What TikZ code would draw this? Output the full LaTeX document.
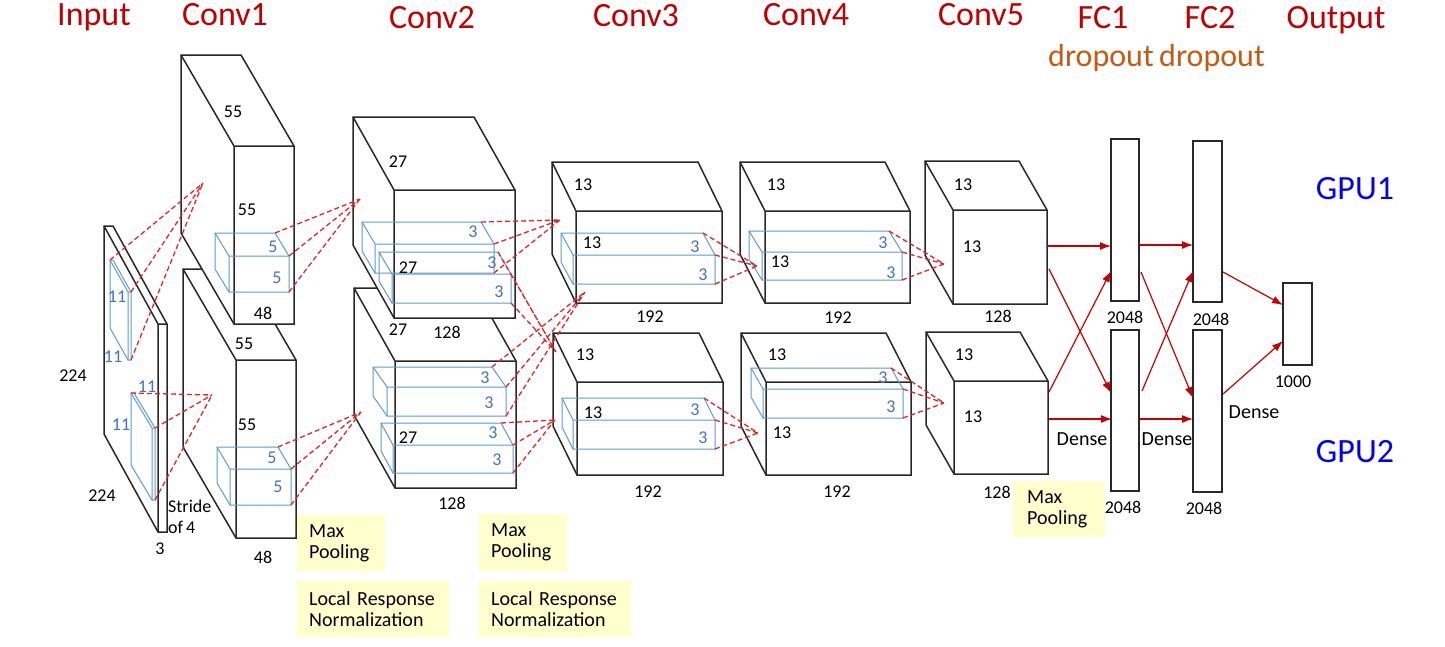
\documentclass[tikz,border=0pt]{standalone}
\usepackage{fontspec}
\setmainfont{Carlito}
\usetikzlibrary{arrows.meta,calc}
\definecolor{ttl}{RGB}{192,0,0}
\definecolor{drp}{RGB}{197,90,17}
\definecolor{gpu}{RGB}{0,0,255}
\definecolor{kblue}{RGB}{91,155,213}
\definecolor{klab}{RGB}{68,114,196}
\definecolor{rdash}{RGB}{220,40,40}
\definecolor{rarr}{RGB}{200,0,0}
\definecolor{yel}{RGB}{255,255,204}
\definecolor{blk}{RGB}{40,40,40}
\tikzset{
  blockline/.style={draw=blk, line width=1.5pt, fill=white, line join=miter},
  kernline/.style={draw=kblue, line width=1pt},
  conn/.style={draw=rdash, line width=1.3pt, dash pattern=on 5pt off 3pt},
  arr/.style={draw=rarr, line width=1.2pt, -{Latex[length=11pt,width=8pt]}},
  num/.style={font=\fontsize{18}{20}\selectfont, text=black, inner sep=0pt},
  knum/.style={font=\fontsize{18}{20}\selectfont, text=klab, inner sep=0pt},
  ttlt/.style={font=\fontsize{34}{36}\selectfont, text=ttl, anchor=base, inner sep=0pt},
  drpt/.style={font=\fontsize{32}{34}\selectfont, text=drp, anchor=base, inner sep=0pt},
  gput/.style={font=\fontsize{34}{36}\selectfont, text=gpu, anchor=base, inner sep=0pt},
  fcbox/.style={draw=blk, line width=1.5pt, fill=white, inner sep=0pt},
  ybox/.style={fill=yel, inner xsep=12pt, inner ysep=0pt, align=left,
    font=\fontsize{20}{21}\selectfont},
}
\newcommand{\mkbox}[8]{%
  \coordinate (#1-ftl) at (#3,#4);
  \coordinate (#1-ftr) at (#5,#4);
  \coordinate (#1-fbl) at (#3,#6);
  \coordinate (#1-fbr) at (#5,#6);
  \coordinate (#1-btl) at ({#3-#7},{#4-#8});
  \coordinate (#1-btr) at ({#5-#7},{#4-#8});
  \coordinate (#1-bbl) at ({#3-#7},{#6-#8});
  \path[#2] (#1-btl) -- (#1-btr) -- (#1-ftr) -- (#1-fbr) -- (#1-fbl) -- (#1-bbl) -- cycle;
  \path[#2, fill=none] (#1-btl) -- (#1-ftl) -- (#1-ftr) (#1-ftl) -- (#1-fbl);
}
\begin{document}
\begin{tikzpicture}[x=1pt,y=-1pt]
\useasboundingbox (0,0) rectangle (1445,646);
\fill[white] (0,0) rectangle (1445,646);

% ---------- titles ----------
\node[ttlt] (tin) at (94,25) {Input};
\node[ttlt] (tc1) at (225,25) {Conv1};
\node[ttlt] (tc2) at (432,28) {Conv2};
\node[ttlt] (tc3) at (636,26) {Conv3};
\node[ttlt] (tc4) at (806,25) {Conv4};
\node[ttlt] (tc5) at (981,25) {Conv5};
\node[ttlt] (tf1) at (1103,28) {FC1};
\node[ttlt] (tf2) at (1210,28) {FC2};
\node[ttlt] (tout) at (1336,28) {Output};
\node[drpt] (td1) at (1101,66) {dropout};
\node[drpt] (td2) at (1212,66) {dropout};
\node[gput] (g1) at (1355,199) {GPU1};
\node[gput] (g2) at (1355,462) {GPU2};

% ---------- input ----------
\mkbox{inp}{blockline}{158}{324}{167}{532}{54}{98}
\mkbox{ik1}{kernline}{128}{292}{131}{360}{18}{32}
\mkbox{ik2}{kernline}{152}{428}{155}{500}{21}{35}

% ---------- conv1 ----------
\mkbox{c1l}{blockline}{236}{360}{296}{538}{53}{91}
\mkbox{c1u}{blockline}{234}{146}{294}{324}{53}{91}
\mkbox{k1u}{kernline}{229}{256}{289}{292}{14}{23}
\mkbox{k1l}{kernline}{230}{469}{291}{505}{13}{22}

% ---------- conv2 ----------
\mkbox{c2l}{blockline}{395}{361}{516}{488}{41}{73}
\mkbox{c2u}{blockline}{394}{190}{515}{318}{41}{73}
\mkbox{k2a}{kernline}{375}{244}{494}{273}{13}{22}
\mkbox{k2b}{kernline}{392}{274}{511}{303}{13}{22}
\mkbox{k2c}{kernline}{387}{387}{506}{416}{14}{20}
\mkbox{k2d}{kernline}{393}{445}{513}{473}{12}{22}

% ---------- conv3 ----------
\mkbox{c3u}{blockline}{576}{211}{722}{303}{24}{49}
\mkbox{c3l}{blockline}{577}{382}{723}{475}{24}{49}
\mkbox{k3u}{kernline}{573}{255}{715}{284}{12}{22}
\mkbox{k3l}{kernline}{573}{420}{715}{449}{11}{22}

% ---------- conv4 ----------
\mkbox{c4u}{blockline}{765}{211}{910}{303}{25}{49}
\mkbox{c4l}{blockline}{766}{382}{911}{475}{25}{49}
\mkbox{k4u}{kernline}{762}{252}{902}{280}{13}{21}
\mkbox{k4l}{kernline}{763}{389}{903}{418}{12}{21}

% ---------- conv5 ----------
\mkbox{c5u}{blockline}{953}{210}{1047}{304}{28}{49}
\mkbox{c5l}{blockline}{954}{381}{1048}{474}{28}{49}

% ---------- fully connected ----------
\node[fcbox, minimum width=28pt, minimum height=162pt] (fc1u) at (1125,220) {};
\node[fcbox, minimum width=28pt, minimum height=161pt] (fc1l) at (1125,410.5) {};
\node[fcbox, minimum width=29pt, minimum height=161pt] (fc2u) at (1207.5,221.5) {};
\node[fcbox, minimum width=29pt, minimum height=162pt] (fc2l) at (1207.5,411) {};
\node[fcbox, minimum width=29pt, minimum height=82pt] (outb) at (1297.5,324) {};

% ---------- dashed connections ----------
\coordinate (pin1) at (203,183);
\coordinate (pin2) at (212,395);
\coordinate (p1u) at (360,199);
\coordinate (p1l) at (361,412);
\coordinate (p2a) at (560,220);
\coordinate (p2b) at (556,352);
\coordinate (p2c) at (585,292);
\coordinate (p2d) at (555,420);
\coordinate (p3u) at (757,266);
\coordinate (p3l) at (758,433);
\coordinate (p4u) at (944,264);
\coordinate (p4l) at (944,403);
\draw[conn] (ik1-btl) -- (pin1) (ik1-ftr) -- (pin1) (ik1-fbr) -- (pin1);
\draw[conn] (ik2-btl) -- (pin2) (ik2-ftr) -- (pin2) (ik2-fbr) -- (pin2);
\foreach \k/\p in {k1u/p1u,k1l/p1l,k2a/p2a,k2b/p2b,k2c/p2c,k2d/p2d,k3u/p3u,k3l/p3l,k4u/p4u,k4l/p4l}{
  \draw[conn] (\k-btr) -- (\p) (\k-ftr) -- (\p) (\k-fbr) -- (\p);
}

% ---------- solid arrows ----------
\coordinate (a1s) at (1047,246); \coordinate (a1e) at (1111,246);
\coordinate (a2s) at (1049,269); \coordinate (a2e) at (1111,393);
\coordinate (a3s) at (1049,392); \coordinate (a3e) at (1111,271);
\coordinate (a4s) at (1049,419); \coordinate (a4e) at (1112,419);
\coordinate (a5s) at (1140,245); \coordinate (a5e) at (1193,245);
\coordinate (a6s) at (1141,272); \coordinate (a6e) at (1193,398);
\coordinate (a7s) at (1142,391); \coordinate (a7e) at (1193,271);
\coordinate (a8s) at (1140,419); \coordinate (a8e) at (1193,419);
\coordinate (a9s) at (1223,272); \coordinate (a9e) at (1283,305);
\coordinate (a10s) at (1223,394); \coordinate (a10e) at (1283,341);
\foreach \i in {1,...,10}{ \draw[arr] (a\i s) -- (a\i e); }

% ---------- labels: input ----------
\node[num] (l1) at (73,376) {224};
\node[num] (l2) at (102,496) {224};
\node[num] (l3) at (160,549) {3};
\node[knum] (l4) at (117,297) {11};
\node[knum] (l5) at (113,357) {11};
\node[knum] (l6) at (147,387) {11};
\node[knum] (l7) at (121,425) {11};
\node[num, anchor=west] (l8) at (168,506) {Stride};
\node[num, anchor=west] (l9) at (168,527) {of\,4};

% ---------- labels: conv1 ----------
\node[num] (m1) at (233,112) {55};
\node[num] (m2) at (247,210) {55};
\node[num] (m3) at (263,313) {48};
\node[num] (m4) at (244,344) {55};
\node[num] (m5) at (247,425) {55};
\node[num] (m6) at (263,557) {48};
\node[knum] (m7) at (273,247) {5};
\node[knum] (m8) at (277,278) {5};
\node[knum] (m9) at (272,458) {5};
\node[knum] (m10) at (278,487) {5};

% ---------- labels: conv2 ----------
\node[num] (n1) at (398,162) {27};
\node[num] (n2) at (408,268) {27};
\node[num] (n3) at (398,330) {27};
\node[num] (n4) at (447,332) {128};
\node[num] (n5) at (408,438) {27};
\node[num] (n6) at (452,503) {128};
\node[knum] (n7) at (473,232) {3};
\node[knum] (n8) at (492,263) {3};
\node[knum] (n9) at (499,292) {3};
\node[knum] (n10) at (485,378) {3};
\node[knum] (n11) at (489,403) {3};
\node[knum] (n12) at (493,433) {3};
\node[knum] (n13) at (497,460) {3};

% ---------- labels: conv3 ----------
\node[num] (o1) at (583,185) {13};
\node[num] (o2) at (592,243) {13};
\node[num] (o3) at (650,317) {192};
\node[num] (o4) at (585,355) {13};
\node[num] (o5) at (593,413) {13};
\node[num] (o6) at (648,492) {192};
\node[knum] (o7) at (695,247) {3};
\node[knum] (o8) at (703,275) {3};
\node[knum] (o9) at (695,410) {3};
\node[knum] (o10) at (703,438) {3};

% ---------- labels: conv4 ----------
\node[num] (q1) at (776,185) {13};
\node[num] (q2) at (780,262) {13};
\node[num] (q3) at (838,318) {192};
\node[num] (q4) at (777,355) {13};
\node[num] (q5) at (782,433) {13};
\node[num] (q6) at (837,492) {192};
\node[knum] (q7) at (883,243) {3};
\node[knum] (q8) at (891,273) {3};
\node[knum] (q9) at (883,378) {3};
\node[knum] (q10) at (891,407) {3};

% ---------- labels: conv5 / fc ----------
\node[num] (r1) at (963,185) {13};
\node[num] (r2) at (972,247) {13};
\node[num] (r3) at (998,316) {128};
\node[num] (r4) at (964,355) {13};
\node[num] (r5) at (973,417) {13};
\node[num] (r6) at (997,492) {128};
\node[num] (s1) at (1125,317) {2048};
\node[num] (s2) at (1123,507) {2048};
\node[num] (s3) at (1211,319) {2048};
\node[num] (s4) at (1204,508) {2048};
\node[num] (s5) at (1293,382) {1000};
\node[num, font=\fontsize{20}{22}\selectfont] (d1) at (1082,439) {Dense};
\node[num, font=\fontsize{20}{22}\selectfont] (d2) at (1167,439) {Dense};
\node[num, font=\fontsize{20}{22}\selectfont] (d3) at (1254,412) {Dense};

% ---------- yellow boxes ----------
\node[ybox, anchor=north west, minimum width=88pt, minimum height=56pt, text width=64pt] (y1) at (297,515) {Max\\Pooling};
\node[ybox, anchor=north west, minimum width=152pt, minimum height=56pt, text width=128pt] (y2) at (297,581) {Local Response\\Normalization};
\node[ybox, anchor=north west, minimum width=86pt, minimum height=57pt, text width=64pt] (y3) at (479,514) {Max\\Pooling};
\node[ybox, anchor=north west, minimum width=152pt, minimum height=56pt, text width=128pt] (y4) at (479,581) {Local Response\\Normalization};
\node[ybox, anchor=north west, inner xsep=14pt, minimum width=88pt, minimum height=56pt, text width=64pt] (y5) at (1013,481) {Max\\Pooling};
\end{tikzpicture}
\end{document}
